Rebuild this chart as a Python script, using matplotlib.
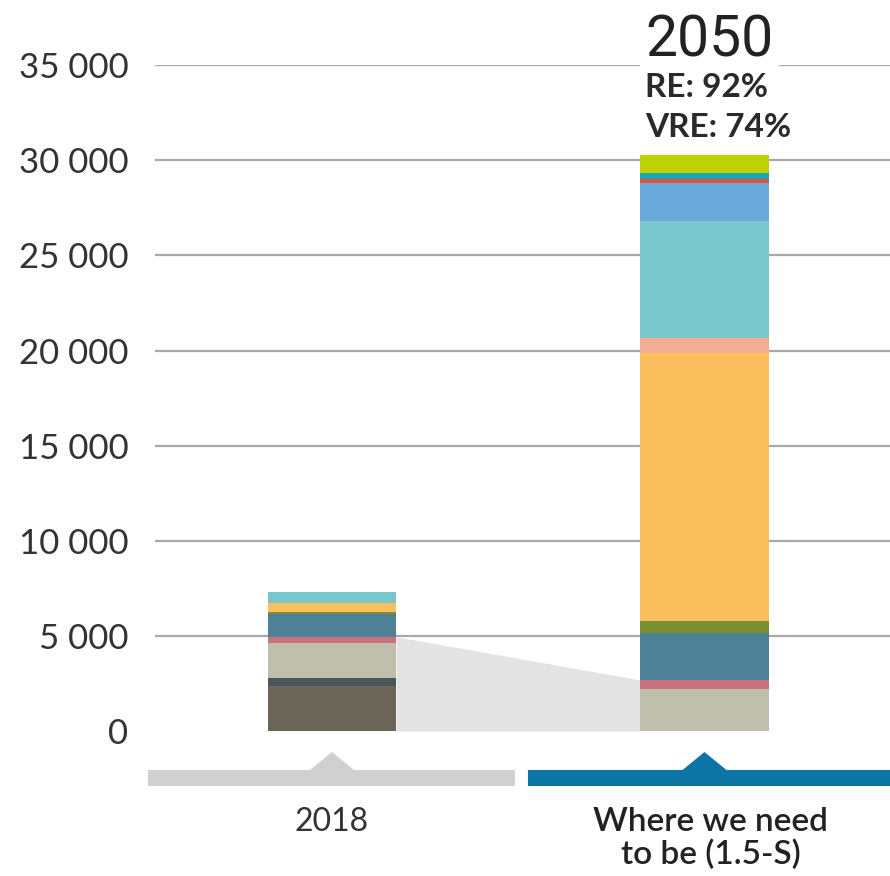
import numpy as np
import matplotlib
matplotlib.use("Agg")
import matplotlib.pyplot as plt
from matplotlib.patches import Polygon

# données (GW)
categories = ["2018", "Where we need\nto be (1.5-S)"]
sources = ["Coal", "Oil", "Natural gas", "Nuclear", "Hydropower", "Bioenergy",
           "Solar PV", "CSP", "Wind onshore", "Wind offshore", "Geothermal",
           "Marine", "Others"]
values_2018 = [2374, 436, 1807, 346, 1192, 100, 462, 0, 610, 0, 0, 0, 0]
values_2050 = [0, 0, 2216, 473, 2453, 661, 14044, 788, 6160, 1981, 210, 315, 961]
colors = ["#6b6458", "#4b565b", "#c0bfad", "#c9717f", "#4f8196", "#7b9030",
          "#fbbf5d", "#f5ae96", "#79c7cd", "#69a9dc", "#e2553b", "#19a8b6",
          "#bfd200"]
n_non_re = 4   # charbon, pétrole, gaz, nucléaire
yticks = [0, 5000, 10000, 15000, 20000, 25000, 30000, 35000]
re_text = "RE: 92%"
vre_text = "VRE: 74%"

plt.rcParams['font.family'] = ['Lato', 'DejaVu Sans']

fig = plt.figure(figsize=(8.9, 8.76), dpi=100)
ax = fig.add_axes([155/890, (876-731.2)/876, 735/890, (731.2-65)/876])
ax.set_ylim(0, 35000)
ax.set_xlim(-0.475, 1.498)
upx = 35000 / (731.2 - 65)   # GW par pixel
xpx = 1 / 372.5              # unité x par pixel

# grille
for t in yticks[1:]:
    ax.axhline(t, color="#a8a8a8", lw=1.6, zorder=0)

ax.set_yticks(yticks)
ax.set_yticklabels([f"{t:,}".replace(",", " ") for t in yticks],
                   fontsize=25, color="#333333")
ax.tick_params(axis="y", length=0, pad=19)
ax.set_xticks([])
for s in ax.spines.values():
    s.set_visible(False)

x = np.arange(len(categories))
w = 0.344
data = np.array([values_2018, values_2050], dtype=float)
bottoms = np.zeros(len(categories))
for i, src in enumerate(sources):
    ax.bar(x, data[:, i], w, bottom=bottoms, color=colors[i], zorder=2,
           label=src)
    bottoms += data[:, i]

# zone grise entre les barres (non renouvelable)
non_re = data[:, :n_non_re].sum(axis=1)
ax.fill_between([x[0] + w/2, x[1] - w/2], [0, 0], non_re,
                color="#e3e3e3", lw=0, zorder=1)

# annotation 2050
x_lab = x[1] - w/2 + 5*xpx
ax.text(x_lab, (731.2-56)*upx, "2050",
        family=['Roboto', 'DejaVu Sans'], fontsize=41,
        color="#222222", ha="left", va="baseline", zorder=5,
        bbox=dict(boxstyle="square,pad=0.1", fc="white", ec="none"))
ax.text(x_lab, (731.2-97)*upx, re_text, fontsize=24,
        fontweight="bold", color="#2a2a2a", ha="left", va="baseline", zorder=5)
ax.text(x_lab, (731.2-137)*upx, vre_text, fontsize=24,
        fontweight="bold", color="#2a2a2a", ha="left", va="baseline", zorder=5)

# barres du bas avec triangles
def band(xl, xr, xc, color):
    yb0, yb1, ytip = -(786-731.2)*upx, -(770-731.2)*upx, -(752-731.2)*upx
    hw = 22*xpx
    pts = [(xl, yb0), (xr, yb0), (xr, yb1), (xc + hw, yb1), (xc, ytip),
           (xc - hw, yb1), (xl, yb1)]
    ax.add_patch(Polygon(pts, closed=True, color=color, clip_on=False,
                         lw=0, zorder=3))

band((148-332)*xpx, (515-332)*xpx, x[0], "#d0d0d0")
band((528-332)*xpx, (890-332)*xpx, x[1], "#0d74a6")

ax.text(x[0], -(822-731.2)*upx, categories[0], fontsize=23, color="#333333",
        ha="center", va="center")
ax.text(x[1] + 6*xpx, -(838.5-731.2)*upx, categories[1], fontsize=24,
        fontweight="semibold", color="#222222", ha="center", va="center",
        linespacing=1.08)

fig.savefig("out.png", dpi=100)
